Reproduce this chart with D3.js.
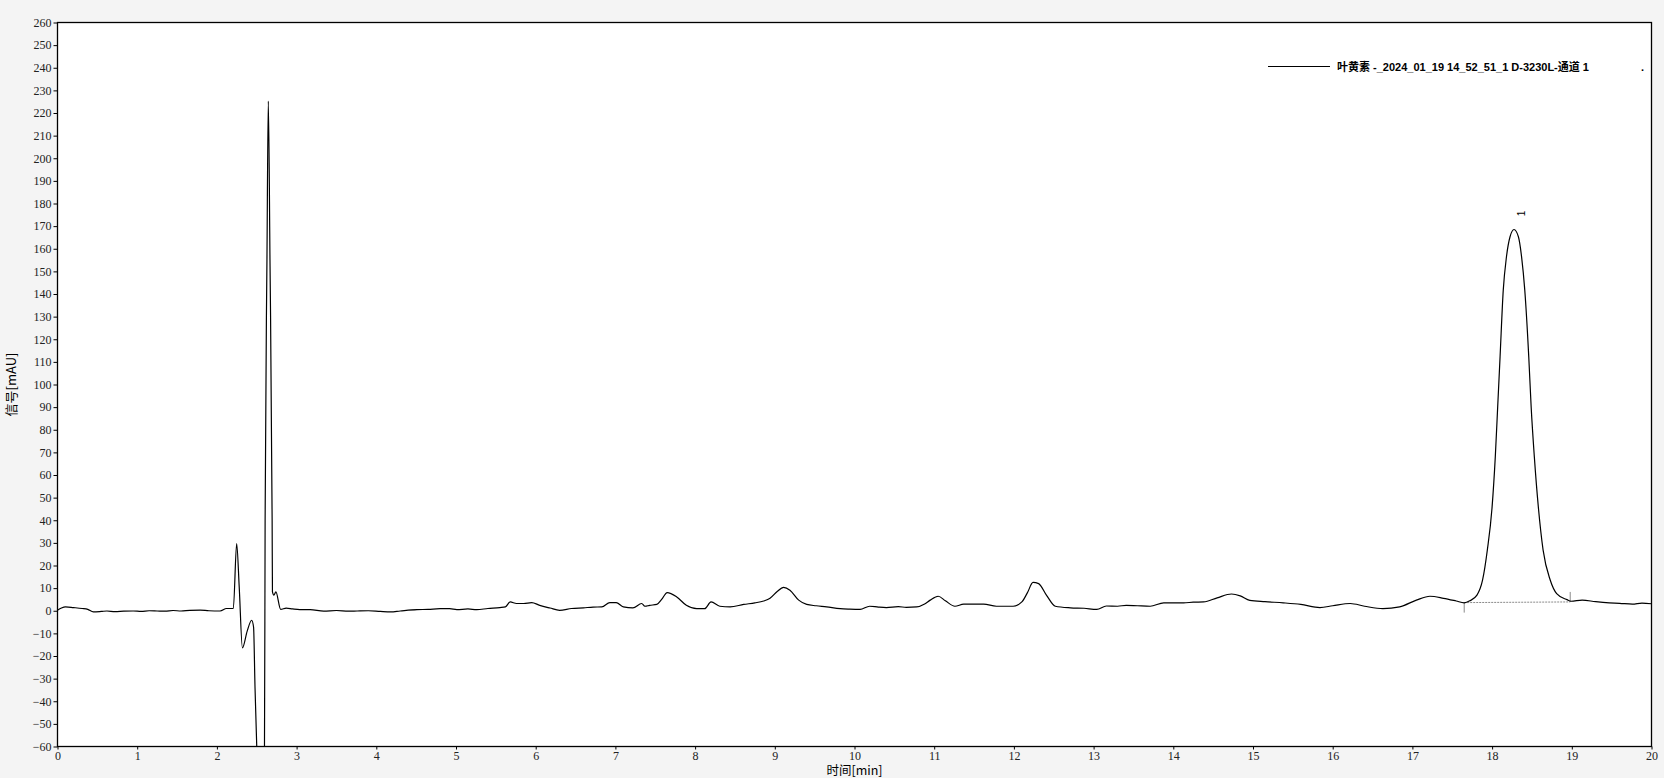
<!DOCTYPE html>
<html><head><meta charset="utf-8">
<script src="https://cdn.jsdelivr.net/npm/d3@7"></script>
<style>
html,body{margin:0;padding:0;background:#f4f4f4;}
svg{display:block;}
</style></head>
<body>
<svg id="c" width="1664" height="778"></svg>
<script>
// ---- data ----
const times = [0.00,0.05,0.10,0.20,0.31,0.38,0.45,0.55,0.62,0.72,0.83,0.95,1.05,1.15,1.25,1.35,1.45,1.55,1.66,1.79,1.90,2.04,2.12,2.18,2.206,2.248,2.28,2.32,2.38,2.436,2.46,2.478,2.50,2.54,2.58,2.597,2.605,2.628,2.645,2.666,2.693,2.697,2.715,2.74,2.80,2.87,2.95,3.04,3.17,3.34,3.50,3.65,3.76,3.90,4.05,4.18,4.30,4.51,4.65,4.80,4.92,5.01,5.15,5.26,5.40,5.55,5.62,5.68,5.76,5.85,5.95,6.05,6.18,6.30,6.45,6.60,6.72,6.83,6.93,7.01,7.10,7.22,7.33,7.37,7.43,7.52,7.58,7.65,7.77,7.89,8.02,8.12,8.20,8.31,8.44,8.61,8.75,8.86,8.94,9.03,9.11,9.19,9.30,9.40,9.52,9.65,9.82,9.94,10.07,10.19,10.30,10.40,10.55,10.65,10.78,10.88,10.95,11.05,11.14,11.26,11.37,11.50,11.62,11.78,11.99,12.10,12.17,12.24,12.31,12.41,12.52,12.71,12.88,13.04,13.16,13.30,13.41,13.55,13.71,13.88,14.13,14.25,14.38,14.55,14.73,14.84,14.96,15.15,15.38,15.60,15.84,16.00,16.22,16.40,16.63,16.84,17.05,17.22,17.39,17.55,17.65,17.72,17.81,17.88,17.94,18.00,18.04,18.07,18.10,18.14,18.18,18.225,18.275,18.33,18.37,18.41,18.46,18.49,18.53,18.58,18.64,18.73,18.81,18.94,18.99,19.13,19.30,19.47,19.60,19.76,19.88,20.00];
const signal = [0.2,1.2,1.7,1.4,1.0,0.6,-0.5,-0.3,-0.1,-0.4,-0.2,-0.1,-0.3,0.0,-0.1,-0.2,0.1,-0.1,0.2,0.3,0.0,-0.1,1.0,1.0,1.0,29.7,10.5,-16.4,-9.0,-4.2,-7.2,-33.6,-60,-78,-72,-60,40,155,225.3,155,40,8.3,6.9,8.3,0.6,1.2,0.8,0.5,0.5,-0.2,0.1,-0.2,-0.1,0.0,-0.3,-0.5,-0.1,0.5,0.6,0.9,0.9,0.5,0.8,0.5,1.0,1.4,1.7,3.9,3.2,3.2,3.6,2.4,1.2,0.2,1.0,1.3,1.6,1.7,3.6,3.6,1.7,1.3,3.2,2.0,2.4,2.8,5.0,8.05,6.1,2.4,0.9,0.9,3.9,2.0,1.7,2.8,3.5,4.3,5.5,8.5,10.3,9.1,4.7,2.8,2.2,1.7,0.9,0.7,0.6,2.0,1.6,1.4,1.8,1.5,1.7,3.0,4.7,6.4,4.4,2.0,2.9,2.9,2.9,2.0,2.0,3.9,8.0,12.5,12.0,6.8,2.0,1.3,1.1,0.6,2.1,2.0,2.4,2.2,2.0,3.5,3.5,3.8,3.9,5.7,7.4,6.6,4.6,4.0,3.5,2.8,1.4,2.2,3.2,2.0,0.9,1.7,4.7,6.4,5.5,4.3,3.5,4.4,6.9,13.5,26.8,45.9,68.0,90.1,112.2,141.7,156.4,165.3,168.5,165.3,156.4,141.7,112.2,90.1,68.0,45.9,26.8,13.5,7.6,4.9,4.2,4.7,4.0,3.5,3.3,2.9,3.4,3.1];
const xTicks = d3.range(0, 21, 1);
const yTicks = d3.range(-60, 261, 10);
const peakLabels = ["1"];
const peakTimes = [18.275];
const peakHeights = [168.5];
const integStart = [17.65];
const integEnd = [18.98];
const integBaseStart = [3.6];
const integBaseEnd = [3.9];
const legendText = "叶黄素 -_2024_01_19 14_52_51_1 D-3230L-通道 1";
const xTitle = "时间[min]";
const yTitle = "信号[mAU]";

// ---- layout ----
const W = 1664, H = 778;
const m = {left: 57.5, top: 22.5, right: 12.5, bottom: 31.5};
const svg = d3.select("#c");
const x = d3.scaleLinear().domain([0, 20]).range([m.left, W - m.right]);
const y = d3.scaleLinear().domain([-60, 260]).range([H - m.bottom, m.top]);

svg.append("rect").attr("x", m.left).attr("y", m.top)
  .attr("width", W - m.left - m.right).attr("height", H - m.top - m.bottom)
  .attr("fill", "#fff");

svg.append("defs").append("clipPath").attr("id", "clip")
  .append("rect").attr("x", m.left).attr("y", m.top)
  .attr("width", W - m.left - m.right).attr("height", H - m.top - m.bottom);

const tickFont = "'Liberation Serif', 'DejaVu Serif', serif";

const gx = svg.append("g").attr("transform", `translate(0,${H - m.bottom})`)
  .call(d3.axisBottom(x).tickValues(xTicks).tickSize(3).tickPadding(2).tickFormat(d3.format("d")));
gx.select(".domain").remove();
gx.selectAll("text").attr("font-family", tickFont).attr("font-size", 12).attr("fill", "#222");
gx.selectAll("line").attr("stroke", "#000");

const gy = svg.append("g").attr("transform", `translate(${m.left},0)`)
  .call(d3.axisLeft(y).tickValues(yTicks).tickSize(4).tickPadding(2).tickFormat(d3.format("d")));
gy.select(".domain").remove();
gy.selectAll("text").attr("font-family", tickFont).attr("font-size", 12).attr("fill", "#222");
gy.selectAll("line").attr("stroke", "#000");

// integration baseline and markers
const plot = svg.append("g").attr("clip-path", "url(#clip)");
integStart.forEach((s, i) => {
  plot.append("line")
    .attr("x1", x(s)).attr("y1", y(integBaseStart[i]))
    .attr("x2", x(integEnd[i])).attr("y2", y(integBaseEnd[i]))
    .attr("stroke", "#8a8a8a").attr("stroke-width", 1).attr("stroke-dasharray", "2,1");
  plot.append("line")
    .attr("x1", x(s)).attr("x2", x(s))
    .attr("y1", y(integBaseStart[i])).attr("y2", y(integBaseStart[i]) + 10)
    .attr("stroke", "#8a8a8a").attr("stroke-width", 1);
  plot.append("line")
    .attr("x1", x(integEnd[i])).attr("x2", x(integEnd[i]))
    .attr("y1", y(integBaseEnd[i])).attr("y2", y(integBaseEnd[i]) - 10)
    .attr("stroke", "#8a8a8a").attr("stroke-width", 1);
});

// trace
const pts = times.map((t, i) => [t, signal[i]]);
plot.append("path").datum(pts)
  .attr("fill", "none").attr("stroke", "#000").attr("stroke-width", 1.2)
  .attr("stroke-linejoin", "round")
  .attr("d", d3.line().curve(d3.curveMonotoneX).x(d => x(d[0])).y(d => y(d[1])));

// peak labels
peakLabels.forEach((lab, i) => {
  const px = x(peakTimes[i]) + 8, py = y(peakHeights[i]) - 16;
  svg.append("text").attr("transform", `translate(${px},${py}) rotate(-90)`)
    .attr("text-anchor", "middle").attr("dominant-baseline", "middle")
    .attr("font-family", "'Liberation Sans', Arial, sans-serif").attr("font-size", 10)
    .attr("fill", "#000").text(lab);
});

// frame
svg.append("rect").attr("x", m.left).attr("y", m.top)
  .attr("width", W - m.left - m.right).attr("height", H - m.top - m.bottom)
  .attr("fill", "none").attr("stroke", "#000").attr("stroke-width", 1.3);

// legend
svg.append("line").attr("x1", 1268).attr("x2", 1330).attr("y1", 66.5).attr("y2", 66.5)
  .attr("stroke", "#000").attr("stroke-width", 1);
svg.append("text").attr("x", 1337).attr("y", 70.5)
  .attr("font-family", "'Liberation Sans', 'Noto Sans CJK SC', Arial, sans-serif")
  .attr("font-weight", "bold").attr("font-size", 11).attr("fill", "#000")
  .text(legendText);
svg.append("text").attr("x", 1641).attr("y", 70.5)
  .attr("font-family", "'Liberation Sans', Arial, sans-serif")
  .attr("font-weight", "bold").attr("font-size", 11).attr("fill", "#000").text(".");

// axis titles
svg.append("text").attr("x", (m.left + W - m.right) / 2).attr("y", 775)
  .attr("text-anchor", "middle")
  .attr("font-family", "'Noto Sans CJK SC', sans-serif").attr("font-size", 12.5)
  .attr("fill", "#000").text(xTitle);
svg.append("text").attr("transform", `translate(16,${(m.top + H - m.bottom) / 2}) rotate(-90)`)
  .attr("text-anchor", "middle")
  .attr("font-family", "'Noto Sans CJK SC', sans-serif").attr("font-size", 13)
  .attr("fill", "#000").text(yTitle);
</script>
</body></html>
